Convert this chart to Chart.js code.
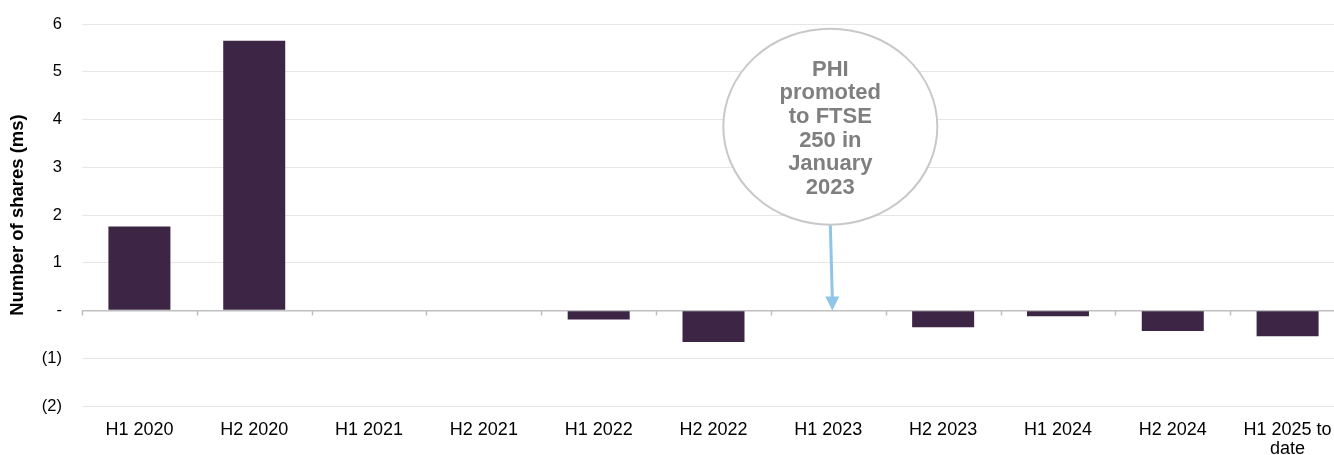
<!DOCTYPE html>
<html>
<head>
<meta charset="utf-8">
<script src="https://cdn.jsdelivr.net/npm/chart.js@4.4.0/dist/chart.umd.min.js"></script>
<style>
    html, body { margin: 0; padding: 0; background: #fff; overflow: hidden; }
    #wrap { position: relative; width: 1346px; height: 455px; }
</style>
</head>
<body>
<div id="wrap"><canvas id="sharesChart"></canvas></div>
<script>
    /* ========================================================
       DATA
    ======================================================== */
    const categories = ['H1 2020', 'H2 2020', 'H1 2021', 'H2 2021', 'H1 2022', 'H2 2022',
                        'H1 2023', 'H2 2023', 'H1 2024', 'H2 2024', ['H1 2025 to', 'date']];
    const shares     = [1.76, 5.65, 0, 0, -0.19, -0.66, 0, -0.35, -0.12, -0.43, -0.54];
    const yTicks     = { min: -2, max: 6, step: 1 };
    const note       = ['PHI', 'promoted', 'to FTSE', '250 in', 'January', '2023'];
    const noteAt     = { category: 6, value: 3.85 };

    const BAR_COLOR  = '#3d2545';
    const FONT       = '"Liberation Sans", Arial, sans-serif';

    function tickText(v) {
        if (v === 0) return '-';
        if (v < 0) return '(' + Math.abs(v) + ')';
        return String(v);
    }

    /* ========================================================
       PLUGINS
    ======================================================== */
    const zeroTicks = {
        id: 'zeroTicks',
        afterDatasetsDraw(chart) {
            const x = chart.scales.x, y = chart.scales.y, ctx = chart.ctx;
            const y0 = y.getPixelForValue(0);
            ctx.save();
            ctx.strokeStyle = '#bfbfbf';
            ctx.lineWidth = 1.5;
            ctx.beginPath();
            for (let i = 0; i <= categories.length; i++) {
                const px = Math.round(x.getPixelForValue(i - 0.5)) + 0.5;
                ctx.moveTo(px, y0);
                ctx.lineTo(px, y0 + 5);
            }
            ctx.stroke();
            ctx.restore();
        }
    };

    const bubble = {
        id: 'bubble',
        afterDraw(chart) {
            const x = chart.scales.x, y = chart.scales.y, ctx = chart.ctx;
            const cx = x.getPixelForValue(noteAt.category) + 2;
            const cy = y.getPixelForValue(noteAt.value);
            const rx = 107, ry = 98;
            const y0 = y.getPixelForValue(0);

            // arrow
            ctx.save();
            ctx.strokeStyle = '#8ec5e8';
            ctx.fillStyle = '#8ec5e8';
            ctx.lineWidth = 3;
            ctx.beginPath();
            ctx.moveTo(cx, cy + ry);
            ctx.lineTo(cx + 2, y0 - 12);
            ctx.stroke();
            ctx.beginPath();
            ctx.moveTo(cx + 2 - 7, y0 - 14);
            ctx.lineTo(cx + 2 + 7, y0 - 14);
            ctx.lineTo(cx + 2, y0);
            ctx.closePath();
            ctx.fill();

            // ellipse
            ctx.beginPath();
            ctx.ellipse(cx, cy, rx, ry, 0, 0, Math.PI * 2);
            ctx.fillStyle = '#fff';
            ctx.fill();
            ctx.strokeStyle = '#c8c8c8';
            ctx.lineWidth = 2;
            ctx.stroke();

            // text
            ctx.fillStyle = '#7f7f7f';
            ctx.font = 'bold 22px ' + FONT;
            ctx.textAlign = 'center';
            ctx.textBaseline = 'middle';
            const lh = 23.6;
            note.forEach((line, i) => {
                ctx.fillText(line, cx, cy + 2 - lh * (note.length - 1) / 2 + i * lh);
            });
            ctx.restore();
        }
    };

    /* ========================================================
       CHART
    ======================================================== */
    const ctx = document.getElementById('sharesChart').getContext('2d');
    new Chart(ctx, {
        type: 'bar',
        data: {
            labels: categories,
            datasets: [{
                data: shares,
                backgroundColor: BAR_COLOR,
                borderWidth: 0,
                barPercentage: 0.54,
                categoryPercentage: 1,
            }]
        },
        options: {
            responsive: true,
            maintainAspectRatio: false,
            animation: false,
            layout: { padding: { top: 24, right: 1, left: 0, bottom: 0 } },
            plugins: { legend: { display: false }, tooltip: { enabled: false } },
            scales: {
                x: {
                    grid: { display: false },
                    border: { display: false },
                    ticks: {
                        color: '#000',
                        font: { family: FONT, size: 18, lineHeight: 1.05 },
                        padding: 7,
                        maxRotation: 0,
                        autoSkip: false,
                    },
                    afterFit(scale) { scale.height = 49; }
                },
                y: {
                    min: yTicks.min,
                    max: yTicks.max,
                    border: { display: false },
                    grid: {
                        drawTicks: false,
                        color: c => c.tick.value === 0 ? '#bfbfbf' : '#e6e6e6',
                        lineWidth: c => c.tick.value === 0 ? 1.5 : 1,
                    },
                    ticks: {
                        stepSize: yTicks.step,
                        color: '#000',
                        font: { family: FONT, size: 16.5 },
                        padding: 20,
                        callback: v => tickText(v),
                    },
                    title: {
                        display: true,
                        text: 'Number of shares (ms)',
                        color: '#000',
                        font: { family: FONT, size: 18.5, weight: 'bold' },
                        padding: { top: 7, bottom: 0 },
                    },
                    afterFit(scale) {
                        scale.width = 82;
                        scale.paddingTop = 0;
                        scale.paddingBottom = 0;
                    }
                }
            }
        },
        plugins: [zeroTicks, bubble]
    });
</script>
</body>
</html>
